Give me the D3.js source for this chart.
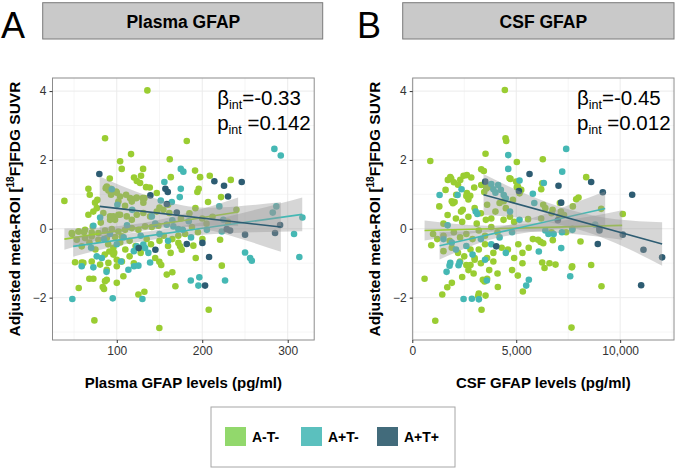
<!DOCTYPE html>
<html><head><meta charset="utf-8">
<script src="https://cdn.jsdelivr.net/npm/d3@7"></script>
<style>
body{margin:0;background:#fff}
svg{display:block}
text{font-family:"Liberation Sans",Arial,sans-serif}
</style></head>
<body><svg id="c" width="685" height="468"></svg>
<script>
// ---------------- DATA ----------------
const groups = ["A-T-", "A+T-", "A+T+"];
const panelLetters = ["A", "B"];
const panelTitles = ["Plasma GFAP", "CSF GFAP"];
const xTitles = ["Plasma GFAP levels (pg/ml)", "CSF GFAP levels (pg/ml)"];
const yTicks = [-2, 0, 2, 4];
const plasmaTicks = [100, 200, 300];
const csfTicks = [0, 5000, 10000];
const betaInt = ["-0.33", "-0.45"];
const pInt = ["0.142", "0.012"];

// Panel A points [plasma GFAP, adjusted FDG]
const plasmaATneg = [[135.8,4.02],[86.3,2.63],[181.9,2.55],[116.7,2.17],[103.9,1.96],[105.8,1.74],[162,2.02],[91.8,1.46],[120.2,1.49],[123.4,1.39],[130.8,1.74],[128.4,1.54],[134.3,1.21],[138.6,1.20],[87.1,1.18],[93,1.16],[66.8,1.16],[68.4,0.99],[38.7,0.81],[74.6,0.76],[77.3,0.84],[99.2,1.08],[123.4,0.91],[132.3,0.89],[163.2,1.5],[191.6,1.69],[197.5,1.5],[195.9,1.16],[194.3,1.07],[208.8,1.54],[233.4,1.42],[222,0.92],[206.8,0.78],[109.7,0.67],[71.9,0.07],[47.7,-0.15],[55.5,-0.08],[61.7,-0.1],[81.3,0.18],[92.2,0.26],[96,0.36],[101.9,0.41],[220.9,-0.32],[222.9,-1.07],[200.2,-0.3],[172.1,-0.41],[174.1,-0.51],[176,-0.61],[189.6,-0.49],[192.4,-0.85],[207.6,-2.35],[149.8,-0.96],[158.5,-1.33],[165,-1.26],[168.6,-1.67],[125.3,-1.91],[132.3,-1.83],[107.7,-1.38],[100,-1.57],[88.3,-1.48],[86.3,-1.52],[83.6,-1.69],[85.1,-1.75],[88.3,-1.19],[67.9,-1.45],[72.6,-1.45],[55.5,-1.72],[51.2,-0.97],[59,-0.98],[73.8,-2.66],[149.8,-2.88],[91.3,-0.66],[96,-0.75],[100,-0.9],
[127.3,1.33],[146.8,1.04],[88.3,1.23],[90.2,1.11],[93.3,0.99],[100,1.05],[103.9,0.94],[101.9,0.79],[110.9,0.99],[115.6,0.89],[117.6,0.79],[122.6,0.89],[130.4,0.89],[131.1,0.76],[66.8,0.41],[72.6,0.5],[76.6,0.6],[84.3,0.46],[92.2,0.36],[98,0.26],[103.9,0.41],[111.7,0.36],[117.6,0.26],[123.4,0.41],[131.1,0.46],[139,0.36],[146.8,0.5],[154.5,0.55],[161.5,0.46],[47.4,-0.12],[55.1,-0.08],[62.9,-0.03],[70.7,-0.11],[78.5,-0.12],[86.3,-0.05],[94.2,-0.01],[101.9,-0.08],[109.7,-0.03],[117.6,0.02],[125.3,-0.03],[133.1,0.07],[141,0.05],[148.7,0.09],[62.9,-0.27],[70.7,-0.22],[78.5,-0.32],[88.3,-0.27],[98,-0.24],[105.8,-0.22],[60.9,-0.99],[70.7,-0.95],[80.5,-1.04],[90.2,-0.99],[100,-1.09],[53.2,-0.32],[59,-0.51],
[90,-0.45],[96,-0.55],[104,-0.4],[110,-0.6],[115,-0.35],[122,-0.5],[128,-0.7],[135,-0.3],[140,-0.45],[150,-0.35],[155,-0.2],[160,-0.5],[165,-0.3],[115,-0.8],[106,-0.95],[120,-1.0],[97,-0.7],[86,-0.75],[75,-0.6],[68,-0.4],[145,-0.85],[152,-1.05],[163,-0.7],[172,-0.2],[180,-0.15],[188,0.05],[195,-0.1],[205,0.15],[212,0.35],[230,0.2],[240,0.55],[150,0.62],[160,0.7],[175,0.3],[185,0.45],[192,0.6],[200,0.3]];
const plasmaApTneg = [[284.4,2.32],[291.9,2.13],[174.9,1.74],[177.9,1.66],[155.7,1.36],[174.9,1.16],[173.7,0.92],[164.4,0.78],[151.5,0.82],[100.7,0.7],[220,0.65],[286.7,0.65],[80.5,0.33],[158.5,0.12],[166.2,0.07],[172.1,-0.01],[184.2,0.22],[307.4,-0.15],[317.2,0.33],[313.6,-0.82],[250.1,-0.69],[256,-0.85],[258,-0.93],[186.6,-1.5],[195.5,-1.65],[196.6,-1.41],[226.7,-1.5],[131.1,-0.46],[133.1,-0.56],[137,-0.7],[139,-0.98],[113.6,-1.19],[120.2,-1.09],[125.3,-1.07],[130,-2.04],[95.3,-2.02],[48,-2.04],[59,-1.09],[72.6,-1.12],[94.2,1.15],[141,0.36],[72.6,0.09],[123.4,-0.51],[76.6,-0.8],[82.5,-0.85],[205.4,-0.03],[222.9,-0.08],[282.5,0.47],[224.7,0.26],[186.9,-0.25],[177.2,-0.03],
[85,-0.3],[92,-0.15],[100,-0.45],[108,-0.25],[112,0.1],[120,-0.65],[128,-0.2],[145,0.15],[150,-0.15],[160,-0.35],[165,0.25],[118,0.55],[88,-1.25],[70,-0.55],[105,-0.95]];
const plasmaApTpos = [[79.6,1.59],[139.3,0.97],[156.9,1.16],[159.7,1.07],[214.2,1.38],[225.5,1.25],[246.2,1.36],[230.2,0.94],[158.5,0.72],[170.2,0.47],[228.7,-0.01],[232.6,-0.05],[250.1,-0.17],[285.2,-0.12],[291.1,0.11],[208,-0.82],[200.2,-0.41],[181.9,-0.44],[203.3,-1.65],[145.2,-0.61],[125.7,-0.56]];

// Panel B points [CSF GFAP, adjusted FDG]
const csfATneg = [[4452,4.03],[865,1.97],[4486,2.63],[4520,2.55],[3524,2.18],[5029,1.94],[6279,2.02],[3317,1.73],[3442,1.68],[4726,1.45],[5029,1.21],[5240,1.13],[6202,1.15],[8366,1.5],[7996,0.91],[7885,0.86],[1712,1.42],[1827,1.5],[1875,1.45],[1601,1.13],[2308,1.42],[2467,1.54],[2625,1.56],[2837,1.49],[2625,1.04],[2788,0.96],[2980,1.2],[2115,0.99],[3317,1.27],[3558,1.2],[4678,1.47],[2000,1.35],[2200,1.28],[1900,0.8],[2035,0.78],[1955,0.74],[2427,0.55],[2346,0.5],[2600,0.95],[2700,0.85],[3540,0.26],[3460,1.07],[3570,1.17],[3700,1.22],[4400,0.8],[4840,0.84],[5000,1.37],[5080,1.23],[5160,1.03],[6250,1.32],[6300,0.7],[4390,0.26],[4700,0.35],[4900,0.2],[5570,0.28],
[1000,-0.15],[1200,-0.3],[1500,-0.2],[1800,-0.35],[2000,-0.1],[2300,-0.25],[2600,-0.15],[2900,-0.3],[3200,-0.05],[3500,-0.2],[3800,0.05],[4100,-0.1],[914,-0.48],[1500,-0.65],[1900,-0.55],[2200,-0.7],[2500,-0.8],[2800,-0.6],[3000,-0.85],[2300,-0.95],[2600,-1.05],[3000,-0.9],[3300,-1.0],[3600,-0.85],[3900,-0.95],[3200,-0.6],[3500,-0.45],[3900,-0.7],[4300,-0.55],[4600,-0.6],[4900,-0.85],[5100,-0.45],[5300,-0.7],[5600,-0.55],[5800,-0.3],[5300,-1.0],
[591,-1.45],[1106,-2.67],[1442,-1.91],[1683,-1.7],[1904,-1.57],[3332,-2.35],[3200,-1.88],[3170,-1.95],[3524,-1.94],[3394,-1.48],[3476,-1.53],[2800,-1.05],[2950,-1.3],[2700,-1.2],[4116,-1.69],[4100,-1.3],[5077,-1.36],[5318,-1.82],[4800,-1.2],[6250,-0.98],[6361,-1.14],[6890,-1.04],[7674,-1.12],[7693,-1.09],[7659,-2.87],[8606,-1.05],[9102,-1.67],[8092,-0.37],[6170,-0.38],[6300,-0.42],[6050,-0.32],[6760,-0.33],
[10126,0.43],[9087,0.58],[7722,0.65],[7082,0.36],[7400,-0.1],[7300,0.4],[6750,0.55],[6700,0.45],[7100,0.75],[7150,0.5],[6400,0.6],[6200,0.3],[7700,0.0],[6600,-1.0],[6700,-0.1],
[1700,0.4],[2100,0.3],[2400,0.2],[2700,0.35],[3000,0.6],[3300,0.45],[3600,0.7],[4000,0.5],[4200,0.75],[4500,0.6],[3100,0.15],[1500,0.15],[3800,0.3],[1300,0.65],[2400,-1.4],[3600,-1.45],[3700,-1.2]];
const csfApTneg = [[4616,2.14],[7404,2.32],[7212,1.66],[4616,1.74],[5159,1.4],[5799,1.02],[6327,1.33],[1313,0.98],[2370,1.15],[3900,1.15],[4000,1.05],[4400,0.98],[4500,0.88],[3800,1.3],[4130,1.27],[4260,1.13],[2180,0.98],[3050,0.5],[3130,0.43],[4700,0.5],[5870,0.75],[5159,0.26],[1793,-1.07],[1827,-0.99],[2226,-1.06],[2274,-0.98],[2467,-2.04],[2866,-2.03],[3202,-2.05],[3587,-1.5],[5481,-1.65],[5607,-1.48],[7597,-1.38],[7164,-0.56],[6087,-0.66],[6400,-0.05],[6800,-0.15],[7200,-0.1],[7700,-0.03],[8800,0.12],[6550,-0.15],[1900,-0.4],[2100,-0.6],[2600,-0.5],[3300,-0.3],[3800,-0.45],[4200,-0.25],[1700,0.1],[1500,-0.3],[2900,-0.75],[4500,-0.7],[3500,-0.9],[4800,-0.1],[1650,-1.25]];
const csfApTpos = [[5640,1.59],[7034,1.25],[7163,0.76],[8606,1.36],[9164,1.06],[10578,0.99],[3510,1.37],[5130,1.1],[11010,-1.64],[11121,-0.61],[12019,-0.83],[10126,-0.17],[9005,-0.05],[8924,-0.44],[4039,-0.51],[7000,0.25],[9000,0.02]];

// Regression fits (endpoints) and confidence bands, per group
const plasmaFitX = [[38.7, 242], [49, 317], [80, 292]];
const plasmaFitY = [[-0.30, 0.49], [-0.51, 0.42], [0.65, 0.05]];
const plasmaBandX = [[38.7, 80, 120, 160, 200, 242], [49, 100, 150, 200, 260, 317], [80, 130, 185, 240, 292]];
const plasmaBandLo = [[-0.61, -0.32, -0.10, 0.02, 0.08, 0.08], [-0.81, -0.50, -0.29, -0.17, -0.10, -0.07], [-0.22, 0.01, 0.05, -0.25, -0.67]];
const plasmaBandHi = [[0.01, 0.04, 0.13, 0.32, 0.58, 0.91], [-0.21, -0.16, -0.03, 0.19, 0.54, 0.91], [1.52, 1.01, 0.65, 0.65, 0.77]];
const csfFitX = [[591, 10096], [1312, 9279], [3428, 12019]];
const csfFitY = [[-0.05, 0.10], [-0.49, 0.59], [0.99, -0.44]];
const csfBandX = [[591, 3000, 5000, 7500, 10096], [1312, 3000, 4500, 6500, 9279], [3428, 5500, 7700, 9800, 12019]];
const csfBandLo = [[-0.34, -0.12, -0.08, -0.14, -0.32], [-0.89, -0.46, -0.21, -0.04, 0.09], [0.39, 0.30, 0.03, -0.42, -1.07]];
const csfBandHi = [[0.24, 0.10, 0.12, 0.26, 0.54], [-0.09, -0.06, 0.09, 0.46, 1.09], [1.59, 1.00, 0.53, 0.28, 0.19]];

// ---------------- STYLE ----------------
const pointColors = ["#9acd32", "#45b8b4", "#2d5c72"];
const legendColors = ["#92d86c", "#5bc0be", "#426b7b"];

const svg = d3.select("#c");
const yDomain = [-3.23, 4.38];

const panels = [
  {left: 52.5, right: 314.2, xDomain: [24.8, 331], ticks: plasmaTicks, minor: [50,150,250], fmt: d3.format("d"),
   pts: [plasmaATneg, plasmaApTneg, plasmaApTpos], fitX: plasmaFitX, fitY: plasmaFitY, bx: plasmaBandX, blo: plasmaBandLo, bhi: plasmaBandHi,
   strip: [42.7, 322.7], letterX: 1, ytitleX: 20},
  {left: 412.7, right: 674, xDomain: [20, 12590], ticks: csfTicks, minor: [2500,7500,12500], fmt: d3.format(","),
   pts: [csfATneg, csfApTneg, csfApTpos], fitX: csfFitX, fitY: csfFitY, bx: csfBandX, blo: csfBandLo, bhi: csfBandHi,
   strip: [402.7, 674], letterX: 357, ytitleX: 380}
];
const plotTop = 78, plotBottom = 340;
const y = d3.scaleLinear().domain(yDomain).range([plotBottom, plotTop]);

panels.forEach((p, i) => {
  const x = d3.scaleLinear().domain(p.xDomain).range([p.left, p.right]);
  const g = svg.append("g");

  // strip
  g.append("rect").attr("x", p.strip[0]).attr("y", 2.7).attr("width", p.strip[1]-p.strip[0]).attr("height", 36.3)
    .attr("fill", "#c9c9c9").attr("stroke", "#7a7a7a").attr("stroke-width", 1);
  g.append("text").attr("x", (p.left+p.right)/2).attr("y", 28).attr("text-anchor", "middle")
    .attr("font-size", 17.5).attr("font-weight", "bold").text(panelTitles[i]);
  g.append("text").attr("x", p.letterX).attr("y", 37.5).attr("font-size", 36).text(panelLetters[i]);

  // grid
  const gridMinorY = [-3, -1, 1, 3];
  g.selectAll(".gmy").data(gridMinorY).join("line").attr("x1", p.left).attr("x2", p.right)
    .attr("y1", d => y(d)).attr("y2", d => y(d)).attr("stroke", "#f2f2f2").attr("stroke-width", 0.7);
  g.selectAll(".gmx").data(p.minor.filter(d => x(d) < p.right)).join("line").attr("y1", plotTop).attr("y2", plotBottom)
    .attr("x1", d => x(d)).attr("x2", d => x(d)).attr("stroke", "#f2f2f2").attr("stroke-width", 0.7);
  g.selectAll(".gy").data(yTicks).join("line").attr("x1", p.left).attr("x2", p.right)
    .attr("y1", d => y(d)).attr("y2", d => y(d)).attr("stroke", "#ebebeb").attr("stroke-width", 1);
  g.selectAll(".gx").data(p.ticks).join("line").attr("y1", plotTop).attr("y2", plotBottom)
    .attr("x1", d => x(d)).attr("x2", d => x(d)).attr("stroke", "#ebebeb").attr("stroke-width", 1);

  // points
  p.pts.forEach((arr, gi) => {
    g.append("g").selectAll("circle").data(arr).join("circle")
      .attr("cx", d => x(d[0])).attr("cy", d => y(d[1])).attr("r", 3.3)
      .attr("fill", pointColors[gi]);
  });

  // bands + lines
  for (let gi = 0; gi < 3; gi++) {
    const band = p.bx[gi].map((xv, k) => [xv, p.blo[gi][k], p.bhi[gi][k]]);
    g.append("path").datum(band)
      .attr("d", d3.area().curve(d3.curveNatural).x(d => x(d[0])).y0(d => y(d[1])).y1(d => y(d[2])))
      .attr("fill", "#999999").attr("fill-opacity", 0.4);
    const fit = p.fitX[gi].map((xv, k) => [xv, p.fitY[gi][k]]);
    g.append("path").datum(fit)
      .attr("d", d3.line().x(d => x(d[0])).y(d => y(d[1])))
      .attr("fill", "none").attr("stroke", pointColors[gi]).attr("stroke-width", 1.6);
  }

  // panel border
  g.append("rect").attr("x", p.left).attr("y", plotTop).attr("width", p.right-p.left).attr("height", plotBottom-plotTop)
    .attr("fill", "none").attr("stroke", "#8c8c8c").attr("stroke-width", 1);

  // axes
  const ax = g.append("g").attr("transform", `translate(0,${plotBottom})`)
    .call(d3.axisBottom(x).tickValues(p.ticks).tickFormat(p.fmt).tickSize(3).tickPadding(3));
  const ay = g.append("g").attr("transform", `translate(${p.left},0)`)
    .call(d3.axisLeft(y).tickValues(yTicks).tickFormat(d => d < 0 ? "\u2212" + Math.abs(d) : d).tickSize(3).tickPadding(3));
  [ax, ay].forEach(a => {
    a.select(".domain").remove();
    a.selectAll(".tick line").attr("stroke", "#333");
    a.selectAll(".tick text").attr("font-size", 12).attr("fill", "#333")
      .attr("font-family", '"Liberation Sans",Arial,sans-serif');
  });

  // axis titles
  g.append("text").attr("x", (p.left+p.right)/2).attr("y", 388).attr("text-anchor", "middle")
    .attr("font-size", 15).attr("font-weight", "bold").text(xTitles[i]);
  const yt = g.append("text").attr("transform", `translate(${p.ytitleX},${(plotTop+plotBottom)/2}) rotate(-90)`)
    .attr("text-anchor", "middle").attr("font-size", 15.5).attr("font-weight", "bold");
  yt.append("tspan").text("Adjusted meta-ROI [");
  yt.append("tspan").attr("font-size", 10).attr("dy", -6).text("18");
  yt.append("tspan").attr("dy", 6).text("F]FDG SUVR");

  // annotation
  const ax0 = p.right - 97;
  const t1 = g.append("text").attr("x", ax0).attr("y", 105).attr("font-size", 20.5);
  t1.append("tspan").text("\u03b2");
  t1.append("tspan").attr("font-size", 12.5).attr("dy", 4).text("int");
  t1.append("tspan").attr("dy", -4).text("=" + betaInt[i]);
  const t2 = g.append("text").attr("x", ax0).attr("y", 130).attr("font-size", 20.5);
  t2.append("tspan").text("p");
  t2.append("tspan").attr("font-size", 12.5).attr("dy", 4).text("int");
  t2.append("tspan").attr("dy", -4).text(" =" + pInt[i]);
});

// legend
const lg = svg.append("g");
lg.append("rect").attr("x", 211).attr("y", 407).attr("width", 244).attr("height", 60)
  .attr("fill", "#fff").attr("stroke", "#a6a6a6").attr("stroke-width", 1);
const legX = d3.scalePoint().domain(groups).range([225, 377]);
groups.forEach((gname, gi) => {
  lg.append("rect").attr("x", legX(gname)).attr("y", 427).attr("width", 21).attr("height", 19)
    .attr("fill", legendColors[gi]);
  lg.append("text").attr("x", legX(gname) + 27).attr("y", 442).attr("font-size", 14)
    .attr("font-weight", "bold").attr("font-family", "Lato, sans-serif").text(gname);
});
</script></body></html>
